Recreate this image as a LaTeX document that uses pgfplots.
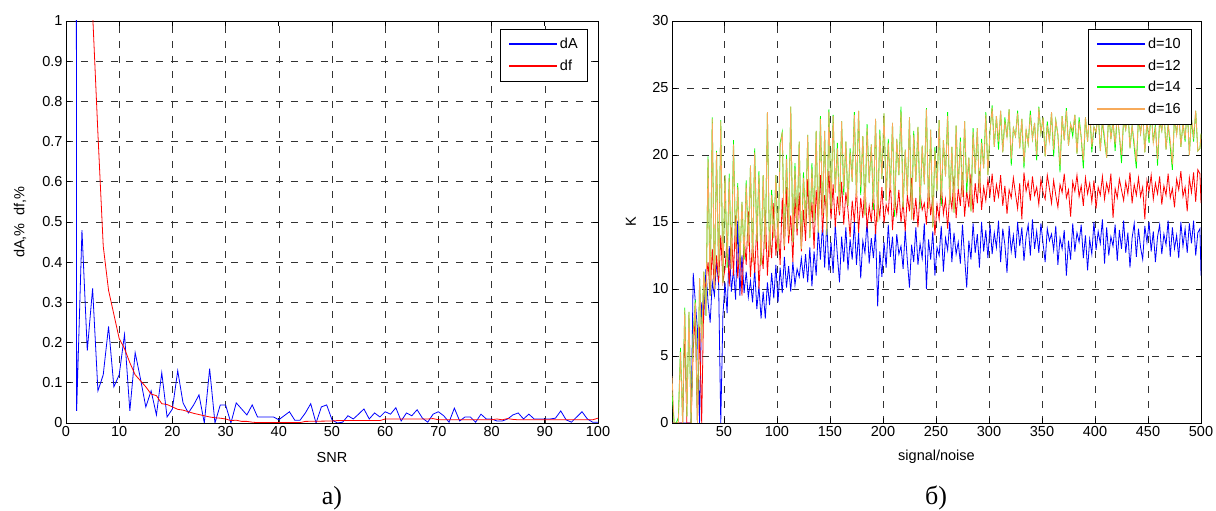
\documentclass[border=0pt]{standalone}
\usepackage{fontspec}
\setmainfont{Liberation Sans}
\newfontfamily\timesfont{Liberation Serif}
\usepackage{pgfplots}
\usepackage{pgfplotstable}
\pgfplotsset{compat=1.18}
\definecolor{cB}{RGB}{0,0,255}
\definecolor{cR}{RGB}{255,0,0}
\definecolor{cG}{RGB}{0,255,0}
\definecolor{cO}{RGB}{247,170,90}
\newcommand{\tf}{\fontsize{14.5}{16}\selectfont}

\pgfplotstableread{
x b r g o
1 0 0 2.3 3.5
3 0 0 0 0
5 0 0 0 0
7 0 0 0.4 0
9 0 0 5.6 5.3
11 0 0 0 0
13 0 7.1 8.6 8.4
15 0 0 0.5 0.5
17 0 0 8.3 8.3
19 0 0 0 0
21 11.2 5.5 6.8 6.5
23 9.0 8.0 9.2 9.0
25 7.0 0 0 0
27 0 7.2 10.8 10.8
29 9.0 0 6.2 6.0
31 8.0 9.5 11.3 11.3
33 11.5 10.5 8.0 8.0
35 9.0 12.0 19.9 19.7
37 7.5 9.5 9.5 9.5
39 10.5 13.0 22.8 22.7
41 9.5 10.0 10.0 10.0
43 12.0 12.5 20.3 20.2
45 10.3 10.5 11.0 11.0
47 0 14.0 22.6 22.5
49 8.0 10.5 10.5 10.5
51 10.5 11.5 18.5 18.5
53 8.2 13.8 11.6 12.0
55 13.2 10.2 18.6 18.3
57 9.8 14.6 11.5 11.5
59 11.5 11.0 21.1 20.8
61 9.2 15.5 13.0 13.0
63 15.1 10.8 17.9 17.6
65 9.5 13.2 11.8 11.8
67 12.5 9.5 16.5 16.5
69 9.7 14.0 12.2 12.5
71 11.3 11.8 18.1 17.8
73 9.4 15.8 13.2 13.2
75 10.6 10.9 19.2 19.2
77 9.0 13.5 12.0 12.0
79 11.5 11.2 20.5 20.2
81 8.5 14.8 13.5 13.5
83 10.2 10.0 18.8 18.5
85 7.8 13.1 11.8 11.8
87 9.8 11.5 18.5 18.5
89 7.8 15.9 13.0 13.0
91 10.5 11.0 23.2 23.2
93 8.8 14.2 12.4 12.4
95 11.2 12.3 17.4 17.0
97 9.3 16.4 13.8 13.8
99 11.8 12.5 18.5 18.5
101 9.0 15.0 12.8 12.8
103 11.6 11.8 20.9 20.5
105 9.7 16.8 21.7 21.7
107 12.4 12.9 13.2 13.2
109 10.1 17.6 20.0 19.7
111 11.7 13.4 14.0 14.0
113 9.8 15.5 23.6 23.6
115 12.0 12.0 13.5 13.5
117 10.3 16.9 19.4 19.0
119 11.5 14.0 14.5 14.5
121 10.9 17.2 21.0 21.0
123 12.3 12.8 13.0 13.0
125 10.8 15.9 18.7 18.3
127 12.6 13.6 14.8 14.8
129 10.5 18.2 21.5 21.5
131 13.1 14.3 13.8 13.8
133 10.2 16.5 19.4 19.0
135 12.8 13.0 15.0 15.0
137 11.0 17.4 21.8 21.8
139 14.5 15.1 14.2 14.2
141 12.2 18.5 22.9 22.7
143 14.9 14.2 15.5 15.5
145 11.6 17.0 21.8 21.8
147 15.0 15.6 14.0 14.0
149 11.4 18.8 23.4 23.2
151 13.5 15.2 16.0 16.0
153 11.2 17.8 23.0 22.9
155 14.8 14.6 17.2 17.2
157 12.5 16.9 20.9 20.5
159 10.5 15.5 15.8 15.8
161 13.9 18.0 22.5 22.5
163 12.0 14.8 17.0 17.5
165 14.6 17.2 21.0 21.0
167 11.4 15.9 16.2 16.2
169 13.7 13.9 20.5 20.2
171 12.2 16.6 18.0 18.0
173 15.0 15.0 23.2 23.0
175 11.8 17.5 16.8 16.8
177 14.2 14.2 23.3 23.3
179 10.8 16.8 17.0 17.6
181 13.6 15.3 21.4 21.4
183 12.7 17.9 15.5 15.5
185 15.1 14.5 22.3 22.0
187 11.9 16.2 17.9 17.9
189 13.8 15.0 20.8 20.8
191 12.3 17.3 15.9 16.4
193 14.5 14.1 22.7 22.7
195 8.7 16.6 15.0 15.0
197 12.8 15.4 21.9 21.6
199 10.9 17.6 18.2 18.2
201 13.5 14.9 23.1 23.1
203 11.6 16.3 16.6 16.6
205 14.8 15.7 21.2 20.9
207 12.4 18.1 17.4 17.4
209 13.9 14.4 22.4 22.4
211 11.2 16.9 15.4 15.9
213 14.1 15.6 21.2 21.2
215 12.6 17.4 18.5 18.5
217 13.2 15.0 23.6 23.2
219 11.5 16.5 16.1 16.1
221 14.4 14.3 20.4 20.4
223 12.1 17.0 17.0 17.0
225 10.1 15.8 22.8 22.8
227 13.3 18.3 15.2 15.2
229 12.0 15.1 21.8 21.5
231 14.6 16.8 18.0 18.0
233 11.8 14.6 22.1 22.1
235 13.4 17.2 16.0 16.5
237 12.3 15.9 20.7 20.7
239 14.9 16.4 17.8 17.8
241 10.0 14.8 23.5 23.4
243 13.7 17.7 16.0 16.0
245 12.2 15.5 21.9 21.9
247 14.3 16.9 14.6 14.6
249 11.0 14.0 20.6 20.3
251 13.1 16.3 17.3 17.3
253 12.5 15.2 22.6 22.6
255 14.7 17.8 16.2 16.8
257 11.3 15.6 21.1 21.1
259 13.8 16.7 18.4 18.4
261 12.9 14.5 23.2 22.9
263 15.0 17.1 16.3 16.3
265 12.0 16.0 20.6 20.6
267 14.2 18.4 15.7 15.7
269 12.6 15.3 22.2 22.2
271 13.5 17.5 17.5 17.5
273 11.9 16.2 21.3 21.0
275 14.8 18.7 16.9 16.9
277 12.4 15.4 22.5 22.5
279 10.1 17.3 17.2 17.9
281 13.6 16.1 19.8 19.8
283 12.2 18.6 15.8 15.8
285 14.9 15.7 22.0 21.7
287 12.7 17.9 18.6 18.6
289 14.1 16.4 22.0 22.0
291 11.6 18.8 17.2 17.2
293 15.0 15.9 21.2 20.9
295 12.8 17.6 19.0 19.0
297 14.4 16.6 23.2 23.0
299 12.3 18.2 18.5 18.5
301 14.8 17.0 21.8 21.8
303 12.6 18.6 23.7 23.5
305 14.2 16.5 20.6 20.6
307 13.1 17.8 22.9 22.9
309 15.1 16.9 20.4 21.0
311 12.0 18.5 23.3 23.3
313 14.5 16.2 20.2 20.2
315 13.3 17.7 22.8 22.5
317 11.2 15.6 21.3 21.3
319 14.7 17.4 23.4 23.4
321 12.8 16.8 19.2 19.7
323 14.0 18.3 22.0 22.0
325 12.3 17.1 21.4 21.4
327 15.0 16.0 23.3 23.1
329 13.2 17.9 20.5 20.5
331 14.6 15.2 22.7 22.7
333 12.1 18.7 19.0 19.4
335 13.9 17.3 21.9 21.9
337 14.8 18.0 20.8 20.8
339 12.5 16.6 23.3 23.0
341 15.2 18.4 21.2 21.2
343 13.0 17.0 22.4 22.4
345 14.3 17.6 19.6 20.0
347 12.7 16.3 23.6 23.5
349 14.9 18.2 21.6 21.6
351 13.4 17.2 22.8 22.8
353 12.0 16.7 19.9 19.9
355 14.5 18.5 22.5 22.2
357 13.6 17.5 21.0 21.0
359 14.1 16.4 23.2 23.2
361 12.9 18.1 19.9 20.4
363 14.7 17.0 22.6 22.6
365 11.8 16.1 21.5 21.5
367 13.8 17.8 18.7 19.2
369 13.0 17.2 22.9 22.9
371 14.4 18.6 21.1 21.1
373 11.0 16.8 23.5 23.3
375 13.6 17.4 20.7 20.7
377 12.2 15.4 22.3 22.3
379 14.9 18.0 21.4 21.8
381 12.8 17.3 23.0 23.0
383 14.2 18.5 20.1 20.1
385 13.5 16.9 22.8 22.5
387 14.8 17.7 21.3 21.3
389 12.3 16.2 19.0 19.6
391 14.0 18.3 22.8 22.8
393 11.4 17.1 21.0 21.0
395 13.7 17.9 23.5 23.4
397 12.6 16.5 20.2 20.6
399 15.0 18.1 22.1 22.1
401 12.9 16.0 21.7 21.7
403 14.3 17.6 23.2 23.0
405 13.4 17.0 20.3 20.3
407 15.2 18.4 22.6 22.6
409 11.9 16.7 21.0 21.4
411 14.6 17.9 19.8 19.8
413 12.5 17.2 23.2 23.2
415 13.9 18.6 21.2 21.2
417 13.2 15.3 22.7 22.4
419 14.8 17.5 20.3 20.8
421 12.1 16.8 23.1 23.1
423 14.4 18.2 21.5 21.5
425 13.0 17.4 19.4 20.0
427 15.1 16.6 22.7 22.7
429 12.7 18.0 21.9 21.9
431 14.2 17.1 23.5 23.3
433 11.6 18.7 20.5 20.5
435 13.8 16.4 22.2 22.2
437 14.9 17.8 20.6 21.0
439 12.4 17.0 19.0 19.5
441 14.5 18.3 22.8 22.8
443 13.1 16.9 21.6 21.6
445 12.2 17.6 23.2 23.0
447 14.7 15.2 20.2 20.2
449 13.5 18.1 22.5 22.5
451 15.0 17.3 20.9 21.3
453 12.8 18.5 23.4 23.4
455 14.3 16.7 20.9 20.9
457 12.0 17.9 22.3 22.0
459 13.9 17.1 19.2 19.7
461 14.8 18.4 22.6 22.6
463 12.6 16.3 21.8 21.8
465 14.1 17.7 23.4 23.2
467 13.3 17.0 20.4 20.4
469 15.1 18.6 22.3 22.3
471 12.4 16.8 20.6 21.1
473 14.6 17.5 18.9 19.3
475 13.0 16.1 22.9 22.9
477 14.0 18.2 21.5 21.5
479 12.3 17.4 23.3 23.1
481 15.0 18.8 20.6 20.6
483 13.2 16.9 22.4 22.4
485 14.5 17.6 21.0 21.2
487 12.7 15.8 23.7 23.6
489 14.9 18.3 20.0 20.0
491 13.4 17.2 22.7 22.7
493 15.1 18.7 21.0 21.4
495 12.5 16.5 23.3 23.3
497 14.2 18.9 20.3 20.3
499 14.5 18.6 20.5 20.5
500 11.0 16.4 21.6 21.6
}\Kdata

\pgfplotsset{
  mstyle/.style={
    scale only axis,
    axis line style={black, line width=0.8pt},
    grid=major,
    major grid style={black!80, dash pattern=on 7pt off 8pt, line width=0.6pt},
    tick align=inside,
    tick pos=both,
    major tick length=5pt,
    tick style={black, line width=0.8pt},
    ticklabel style={font=\tf},
    /pgf/number format/assume math mode=true,
    label style={font=\tf},
    xlabel style={at={(axis description cs:0.5,-0.085)}, anchor=center},
    legend cell align=left,
    legend style={fill=white, font=\tf, anchor=north east,
      inner xsep=8pt, inner ysep=7pt, row sep=5.5pt},
    legend image code/.code={\draw[#1, line width=1.6pt] (0pt,0pt) -- (48pt,0pt);},
  }
}

\begin{document}
\begin{tikzpicture}
\begin{axis}[mstyle,
  at={(66pt,88pt)}, anchor=south west,
  width=532pt, height=402pt,
  xmin=0, xmax=100, ymin=0, ymax=1,
  xtick={0,10,20,30,40,50,60,70,80,90,100},
  ytick={0,0.1,0.2,0.3,0.4,0.5,0.6,0.7,0.8,0.9,1},
  yticklabel style={/pgf/number format/fixed, /pgf/number format/precision=1},
  xlabel={SNR},
  ylabel={dA,\%\ \ df,\%},
  ylabel style={at={(axis description cs:-0.0865,0.5)}, anchor=center, rotate=0},
  legend style={at={(0.981,0.98)}},
]
\addplot[draw=cB, line width=0.8pt] coordinates {(1,20)(2,0.03)(3,0.48)(4,0.18)(5,0.335)(6,0.08)(7,0.12)(8,0.24)(9,0.09)(10,0.12)(11,0.22)(12,0.03)(13,0.175)(14,0.11)(15,0.04)(16,0.08)(17,0.02)(18,0.125)(19,0.015)(20,0.035)(21,0.13)(22,0.05)(23,0.025)(24,0.045)(25,0.07)(26,0)(27,0.135)(28,0)(29,0.045)(30,0.045)(31,0)(32,0.05)(33,0.035)(34,0.02)(35,0.045)(36,0.015)(37,0.015)(38,0.015)(39,0.015)(40,0.008)(41,0.018)(42,0.028)(43,0.007)(44,0.007)(45,0.025)(46,0.048)(47,0)(48,0.04)(49,0.045)(50,0.008)(51,0)(52,0.002)(53,0.018)(54,0.01)(55,0.022)(56,0.035)(57,0.01)(58,0.025)(59,0.015)(60,0.028)(61,0.022)(62,0.038)(63,0.005)(64,0.025)(65,0.018)(66,0.033)(67,0.012)(68,0.002)(69,0.022)(70,0.028)(71,0.018)(72,0.002)(73,0.037)(74,0.005)(75,0.015)(76,0.015)(77,0.002)(78,0.022)(79,0.01)(80,0.01)(81,0.005)(82,0.005)(83,0.01)(84,0.02)(85,0.025)(86,0.01)(87,0.022)(88,0.01)(89,0.01)(90,0.01)(91,0.01)(92,0.012)(93,0.03)(94,0.008)(95,0.002)(96,0.015)(97,0.028)(98,0.01)(99,0.002)(100,0.002)};
\addlegendentry{dA}
\addplot[draw=cR, line width=0.8pt] coordinates {(1,20)(2,10)(3,5)(4,2)(5,1.02)(6,0.72)(7,0.44)(8,0.33)(9,0.27)(10,0.21)(11,0.185)(12,0.15)(13,0.12)(14,0.105)(15,0.09)(16,0.072)(17,0.068)(18,0.048)(19,0.046)(20,0.04)(21,0.034)(22,0.032)(23,0.028)(24,0.024)(25,0.021)(26,0.018)(27,0.015)(28,0.013)(29,0.012)(30,0.01)(31,0.006)(32,0.007)(33,0.004)(34,0.004)(35,0.002)(36,0.001)(40,0.001)(44,0.001)(45,0.004)(50,0.005)(51,0.006)(59,0.006)(60,0.01)(68,0.01)(69,0.011)(70,0.008)(80,0.008)(81,0.01)(82,0.008)(83,0.011)(84,0.009)(85,0.008)(99,0.008)(100,0.012)};
\addlegendentry{df}
\end{axis}

\begin{axis}[mstyle,
  at={(672pt,88pt)}, anchor=south west,
  width=529pt, height=402pt,
  xmin=1, xmax=500, ymin=0, ymax=30,
  xtick={50,100,150,200,250,300,350,400,450,500},
  ytick={0,5,10,15,20,25,30},
  xlabel={signal/noise},
  ylabel={K},
  ylabel style={at={(axis description cs:-0.0775,0.5)}, anchor=center},
  legend style={at={(0.981,0.98)}},
]
\addplot[draw=cB, line width=0.8pt] table[x=x, y=b] {\Kdata};
\addlegendentry{d=10}
\addplot[draw=cR, line width=0.8pt] table[x=x, y=r] {\Kdata};
\addlegendentry{d=12}
\addplot[draw=cG, line width=0.8pt] table[x=x, y=g] {\Kdata};
\addlegendentry{d=14}
\addplot[draw=cO, line width=0.8pt] table[x=x, y=o] {\Kdata};
\addlegendentry{d=16}
\end{axis}

\node[font=\timesfont\fontsize{26}{28}\selectfont] at (332pt,13pt) {а)};
\node[font=\timesfont\fontsize{26}{28}\selectfont] at (936pt,13pt) {б)};

\pgfresetboundingbox
\path[use as bounding box] (0pt,0pt) rectangle (1216pt,511pt);
\end{tikzpicture}
\end{document}
